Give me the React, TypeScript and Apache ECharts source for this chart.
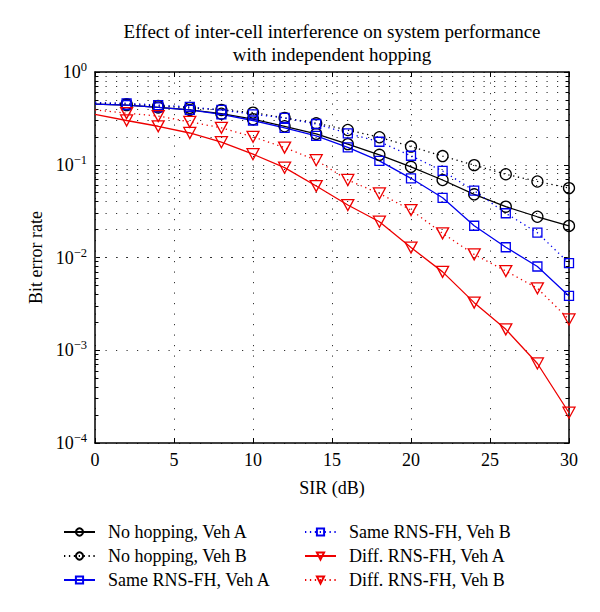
import React, { useEffect, useRef } from 'react';
import * as echarts from 'echarts';

// SIR (dB)
const sir = [0, 2, 4, 6, 8, 10, 12, 14, 16, 18, 20, 22, 24, 26, 28, 30];

// Bit error rate values
const noHopA = [0.45, 0.44, 0.415, 0.39, 0.355, 0.31, 0.26, 0.215, 0.167, 0.128, 0.095, 0.0685, 0.048, 0.0353, 0.0275, 0.0219];
const noHopB = [0.46, 0.45, 0.43, 0.41, 0.39, 0.365, 0.32, 0.28, 0.237, 0.198, 0.157, 0.124, 0.099, 0.079, 0.066, 0.056];
const sameA = [0.45, 0.44, 0.415, 0.39, 0.35, 0.3, 0.25, 0.205, 0.154, 0.11, 0.0714, 0.044, 0.022, 0.0129, 0.008, 0.00385];
const sameB = [0.47, 0.46, 0.44, 0.42, 0.39, 0.35, 0.32, 0.275, 0.218, 0.177, 0.125, 0.0857, 0.0526, 0.03, 0.0185, 0.0087];
const diffA = [0.35, 0.3, 0.26, 0.22, 0.175, 0.13, 0.093, 0.059, 0.0368, 0.0243, 0.0128, 0.007, 0.00326, 0.00168, 0.00072, 0.000212];
const diffB = [0.39, 0.36, 0.335, 0.29, 0.25, 0.2, 0.153, 0.112, 0.0685, 0.049, 0.0325, 0.0182, 0.0108, 0.00715, 0.00466, 0.00215];

const seriesNames = [
  'No hopping, Veh A',
  'No hopping, Veh B',
  'Same RNS-FH, Veh A',
  'Same RNS-FH, Veh B',
  'Diff. RNS-FH, Veh A',
  'Diff. RNS-FH, Veh B',
];

// axis ticks
const xMin = 0;
const xMax = 30;
const xInterval = 5;
const yDecades = [1e-4, 1e-3, 1e-2, 1e-1];
const minorMultipliers = [2, 3, 4, 5, 6, 7, 8, 9];

const FONT = 'Liberation Serif';
const BLACK = '#000000';
const BLUE = '#0000ee';
const RED = '#ee0000';
const FS = 18;

export default function App() {
  const ref = useRef<HTMLDivElement>(null);

  useEffect(() => {
    const chart = echarts.init(ref.current!, null, { renderer: 'svg' });

    const minorVals: number[] = [];
    yDecades.forEach((d) => minorMultipliers.forEach((m) => minorVals.push(+(d * m).toPrecision(3))));

    const gridDot = { color: '#333', width: 1, type: [1.2, 9.3] as number[] };
    const tickLen = 0.22;

    const mk = (
      name: string,
      vals: number[],
      color: string,
      symbol: string,
      size: number | number[],
      dotted: boolean,
      rotate = 0
    ) => ({
      type: 'line',
      name,
      data: sir.map((x, i) => (i === 0 ? { value: [x, vals[i]], symbol: 'none' } : [x, vals[i]])),
      symbol,
      symbolSize: size,
      symbolRotate: rotate,
      showSymbol: true,
      showAllSymbol: true,
      z: 5,
      lineStyle: { color, width: 1.3, type: dotted ? [1.3, 3.6] : 'solid' },
      itemStyle: { color: 'rgba(255,255,255,0)', borderColor: color, borderWidth: 1.3 },
      emphasis: { disabled: true },
    });

    const markData: any[] = [];
    minorVals.forEach((v) => markData.push({ yAxis: v }));
    minorVals.forEach((v) => {
      markData.push([
        { coord: [xMin, v], lineStyle: { type: 'solid', color: '#000', width: 1 } },
        { coord: [xMin + tickLen, v] },
      ]);
      markData.push([
        { coord: [xMax - tickLen, v], lineStyle: { type: 'solid', color: '#000', width: 1 } },
        { coord: [xMax, v] },
      ]);
    });

    const legendCommon = {
      orient: 'vertical',
      padding: 0,
      itemWidth: 31,
      itemHeight: 9,
      itemGap: 6,
      textStyle: { fontFamily: FONT, fontSize: FS, color: '#000', padding: [0, 0, 0, 8] },
      selectedMode: false,
    };

    const yLabel = {
      formatter: (v: number) => {
        const e = Math.round(Math.log10(v));
        return `{b|10}{s|${e === 0 ? '0' : '\u2212' + Math.abs(e)}}`;
      },
      margin: 8,
      fontFamily: FONT,
      fontSize: FS,
      color: '#000',
      rich: {
        b: { fontFamily: FONT, fontSize: FS, color: '#000' },
        s: { fontFamily: FONT, fontSize: 12.5, color: '#000', padding: [0, 0, 10, 0] },
      },
    };

    const option: any = {
      animation: false,
      backgroundColor: '#fff',
      textStyle: { fontFamily: FONT, fontSize: FS, color: '#000' },
      title: {
        text: 'Effect of inter-cell interference on system performance\nwith independent hopping',
        left: 332,
        top: 20,
        padding: 0,
        textAlign: 'center',
        textStyle: { fontFamily: FONT, fontSize: 19, fontWeight: 'normal', color: '#000', lineHeight: 23 },
      },
      grid: { left: 95, right: 31, top: 72, bottom: 169 },
      legend: [
        { ...legendCommon, left: 63, top: 523, data: seriesNames.slice(0, 3) },
        { ...legendCommon, left: 304, top: 523, data: seriesNames.slice(3) },
      ],
      xAxis: [
        {
          type: 'value',
          min: xMin,
          max: xMax,
          interval: xInterval,
          name: 'SIR (dB)',
          nameLocation: 'middle',
          nameGap: 36,
          nameTextStyle: { fontFamily: FONT, fontSize: FS, color: '#000' },
          axisLine: { show: true, onZero: false, lineStyle: { color: '#000', width: 1.5 } },
          axisTick: { show: true, inside: true, length: 5, lineStyle: { color: '#000' } },
          axisLabel: { fontFamily: FONT, fontSize: FS, color: '#000', margin: 8 },
          splitLine: { show: true, lineStyle: gridDot },
        },
        {
          type: 'value',
          position: 'top',
          min: xMin,
          max: xMax,
          interval: xInterval,
          axisLine: { show: true, onZero: false, lineStyle: { color: '#000', width: 1.5 } },
          axisTick: { show: true, inside: true, length: 5, lineStyle: { color: '#000' } },
          axisLabel: { show: false },
          splitLine: { show: false },
        },
      ],
      yAxis: [
        {
          type: 'log',
          logBase: 10,
          min: 1e-4,
          max: 1,
          name: 'Bit error rate',
          nameLocation: 'middle',
          nameGap: 50,
          nameTextStyle: { fontFamily: FONT, fontSize: FS, color: '#000' },
          axisLine: { show: true, onZero: false, lineStyle: { color: '#000', width: 1.5 } },
          axisTick: { show: true, inside: true, length: 5, lineStyle: { color: '#000' } },
          axisLabel: yLabel,
          splitLine: { show: true, lineStyle: gridDot },
        },
        {
          type: 'log',
          logBase: 10,
          min: 1e-4,
          max: 1,
          position: 'right',
          axisLine: { show: true, onZero: false, lineStyle: { color: '#000', width: 1.5 } },
          axisTick: { show: true, inside: true, length: 5, lineStyle: { color: '#000' } },
          axisLabel: { show: false },
          splitLine: { show: false },
        },
      ],
      series: [
        {
          type: 'line',
          name: '_grid',
          data: [],
          silent: true,
          z: 1,
          markLine: {
            silent: true,
            symbol: 'none',
            label: { show: false },
            emphasis: { disabled: true },
            lineStyle: gridDot,
            data: markData,
          },
        },
        mk(seriesNames[0], noHopA, BLACK, 'circle', 11, false),
        mk(seriesNames[1], noHopB, BLACK, 'circle', 11, true),
        mk(seriesNames[2], sameA, BLUE, 'rect', 9, false),
        mk(seriesNames[3], sameB, BLUE, 'rect', 9, true),
        mk(seriesNames[4], diffA, RED, 'triangle', [12, 11], false, 180),
        mk(seriesNames[5], diffB, RED, 'triangle', [12, 11], true, 180),
      ],
    };

    chart.setOption(option);
    return () => chart.dispose();
  }, []);

  return <div ref={ref} style={{ position: 'absolute', left: 0, top: 0, width: 600, height: 612 }} />;
}
